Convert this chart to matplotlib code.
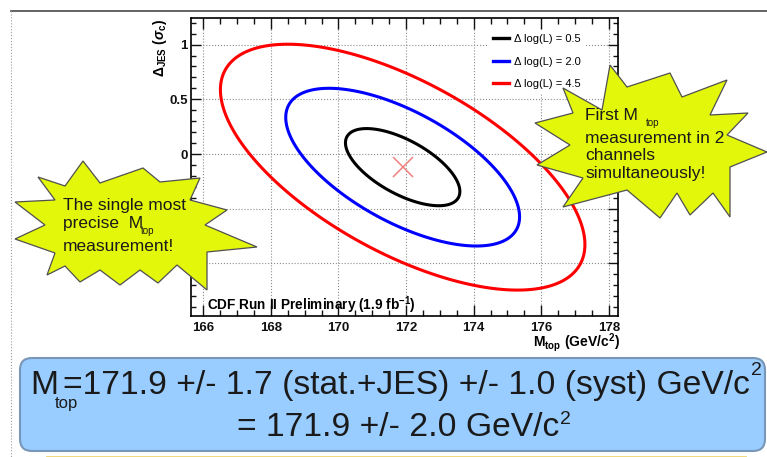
import matplotlib
matplotlib.use('Agg')
import numpy as np
import matplotlib.pyplot as plt
import matplotlib.transforms as mtransforms
from matplotlib.patches import Polygon, FancyBboxPatch
from matplotlib.lines import Line2D
from matplotlib.ticker import MultipleLocator

plt.rcParams['font.family'] = ['Liberation Sans', 'DejaVu Sans']
plt.rcParams['mathtext.fontset'] = 'custom'
plt.rcParams['mathtext.rm'] = 'Liberation Sans:bold'
plt.rcParams['mathtext.it'] = 'Liberation Sans:italic:bold'
plt.rcParams['mathtext.bf'] = 'Liberation Sans:bold'

# 2D template fit result in (Mtop, JES) and its likelihood contours
m_fit = 171.9
jes_fit = -0.12
sig_m = 1.68
sig_jes = 0.35
rho = -0.63
# the likelihood is a bit wider than parabolic in the tails
tail = 0.028
dlogl_levels = [0.5, 2.0, 4.5]
level_colors = ['#000000', '#0000ff', '#ff0000']
level_labels = ['\u0394 log(L) = 0.5', '\u0394 log(L) = 2.0', '\u0394 log(L) = 4.5']

x_ticks = [166, 168, 170, 172, 174, 176, 178]
y_ticks = [-1.0, -0.5, 0.0, 0.5, 1.0]
y_ticklabels = ['-1', '-0.5', '0', '0.5', '1']
x_range = (165.63, 178.27)
y_range = (-1.48, 1.24)

W, H = 767, 457
fig = plt.figure(figsize=(W / 100, H / 100), dpi=100)
# pixel coordinates, origin at top left
px = mtransforms.Affine2D().scale(1.0 / W, -1.0 / H).translate(0, 1) + fig.transFigure

ax = fig.add_axes([190.7 / W, 1 - 316 / H, (618 - 190.7) / W, (316 - 18.3) / H])

mm = np.linspace(x_range[0], x_range[1], 500)
jj = np.linspace(y_range[0], y_range[1], 500)
M, J = np.meshgrid(mm, jj)
u = (M - m_fit) / sig_m
v = (J - jes_fit) / sig_jes
q = 0.5 * (u**2 - 2 * rho * u * v + v**2) / (1 - rho**2)
dlogl = q / (1 + tail * q)
ax.contour(M, J, dlogl, levels=dlogl_levels, colors=level_colors,
           linewidths=2.2, zorder=3)
ax.plot([m_fit], [jes_fit], marker='x', ms=14, mew=1.1, color='#f08080',
        ls='none', zorder=4)

ax.set_xlim(*x_range)
ax.set_ylim(*y_range)
ax.set_xticks(x_ticks)
ax.set_xticklabels([str(t) for t in x_ticks])
ax.set_yticks(y_ticks)
ax.set_yticklabels(y_ticklabels)
ax.xaxis.set_minor_locator(MultipleLocator(0.5))
ax.yaxis.set_minor_locator(MultipleLocator(0.1))
ax.tick_params(which='both', direction='in', top=True, right=True, width=1,
               labelsize=9.5, colors='#111111')
ax.tick_params(axis='x', which='major', length=8, pad=4)
ax.tick_params(axis='x', which='minor', length=4)
ax.tick_params(axis='y', which='major', length=7, pad=2)
ax.tick_params(axis='y', which='minor', length=3.5)
for lbl in ax.get_xticklabels() + ax.get_yticklabels():
    lbl.set_fontweight('bold')
for sp in ax.spines.values():
    sp.set_linewidth(1.2)
ax.grid(True, which='major', ls=':', lw=0.8, color='#8c8c8c')
ax.set_axisbelow(True)

handles = [Line2D([], [], color=c, lw=2.4) for c in level_colors]
leg = ax.legend(handles, level_labels, loc='upper left',
                bbox_to_anchor=(0.697, 0.962), borderaxespad=0, fontsize=8,
                frameon=True, handlelength=1.4, handletextpad=0.45,
                labelspacing=1.12, borderpad=0.4, fancybox=False)
leg.get_frame().set_edgecolor('none')
leg.get_frame().set_facecolor('white')
leg.get_frame().set_alpha(1)
leg.set_zorder(5)

ax.text(0.038, 0.02, 'CDF Run II Preliminary (1.9 fb$^{-1}$)',
        transform=ax.transAxes, fontsize=9.8, fontweight='bold', va='baseline')
ax.text(1.005, -0.09, r'$\mathrm{M_{top}\ (GeV/c^{2})}$', transform=ax.transAxes,
        fontsize=10, ha='right', va='center')
ax.text(-0.072, 1.0, r'$\Delta_{\mathrm{JES}}\ (\sigma_{\mathrm{c}})$',
        transform=ax.transAxes, fontsize=10, rotation=90, ha='center', va='top')

# slide frame lines
fig.add_artist(Line2D([11, 767], [11, 11], transform=px, color='#4a4a4a', lw=1.2))
fig.add_artist(Line2D([11, 11], [11, 457], transform=px, color='#9a9a9a', lw=0.8, ls=':'))

# callout bursts
star_fc = '#e3f70a'
left_star = [(15, 202), (55, 200), (38, 177), (65, 186), (83, 161), (100, 183),
             (143, 168), (160, 182), (200, 178), (190, 200), (227, 210), (205, 225),
             (257, 247), (207, 252), (207, 290), (177, 265), (158, 283), (140, 270),
             (120, 285), (100, 270), (80, 282), (65, 266), (47, 275), (55, 253),
             (15, 239), (45, 225)]
right_star = [(535, 123), (573, 113), (563, 88), (602, 110), (610, 65), (627, 87),
              (670, 73), (682, 97), (727, 80), (710, 115), (748, 113), (727, 135),
              (767, 152), (730, 167), (730, 217), (713, 193), (690, 215), (677, 193),
              (660, 218), (627, 190), (563, 207), (583, 178), (537, 165), (570, 145)]
for pts in (left_star, right_star):
    fig.add_artist(Polygon(pts, closed=True, transform=px, fc=star_fc,
                           ec='#505050', lw=0.9, zorder=6))

txt = dict(transform=px, va='baseline', ha='left', color='#1a1a1a', zorder=7)
fig.text(63, 210, 'The single most', fontsize=12.5, **txt)
fig.text(63, 228, 'precise  M', fontsize=12.5, **txt)
fig.text(141, 234, 'top', fontsize=7, **txt)
fig.text(63, 251, 'measurement!', fontsize=12.5, **txt)

fig.text(585, 120, 'First M', fontsize=12.5, **txt)
fig.text(646, 126, 'top', fontsize=7, **txt)
fig.text(585, 143, 'measurement in 2', fontsize=12.5, **txt)
fig.text(585, 160, 'channels', fontsize=12.5, **txt)
fig.text(585, 178, 'simultaneously!', fontsize=12.5, **txt)

# result box
fig.add_artist(FancyBboxPatch((20, 358), 745, 93,
                              boxstyle='round,pad=0,rounding_size=12', transform=px,
                              fc='#99ccff', ec='#7896b8', lw=1.5, zorder=2))
fig.add_artist(Line2D([47, 745], [456.5, 456.5], transform=px, color='#f0d470', lw=2))

big = 24.2
fig.text(30, 394, 'M', fontsize=big, **txt)
fig.text(55, 408, 'top', fontsize=12, **txt)
t1 = fig.text(63, 394, '=171.9 +/- 1.7 (stat.+JES) +/- 1.0 (syst) GeV/c', fontsize=big, **txt)
t2 = fig.text(237, 436, '= 171.9 +/- 2.0 GeV/c', fontsize=big, **txt)
fig.canvas.draw()
for t, y in ((t1, 375), (t2, 424)):
    bb = t.get_window_extent()
    fig.text(bb.x1 + 1, y, '2', fontsize=14, **txt)

fig.savefig('out.png', dpi=100)
